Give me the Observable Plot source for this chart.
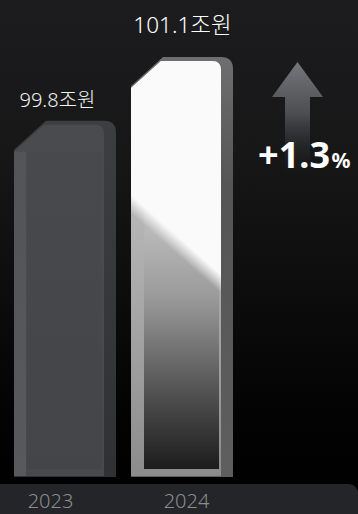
<!DOCTYPE html>
<html><head><meta charset="utf-8">
<script src="https://cdn.jsdelivr.net/npm/d3@7"></script>
<script src="https://cdn.jsdelivr.net/npm/@observablehq/plot@0.6"></script>
<style>
html,body{margin:0;padding:0;background:#000;}
#wrap{position:relative;width:358px;height:514px;overflow:hidden;
  background:linear-gradient(to bottom,#1c1c1e 0%,#171718 30%,#0c0c0c 58%,#030303 80%,#000 100%);}
#band{position:absolute;left:0;top:484px;width:358px;height:40px;background:#232528;border-radius:0 9px 0 0;}
#wrap svg{position:absolute;left:0;top:0;}
</style>
</head><body>
<div id="wrap"><div id="band"></div></div>
<script>
const years = ["2023", "2024"];
const values = [99.8, 101.1];
const valueLabels = ["99.8조원", "101.1조원"];
const changeValue = "+1.3";
const changeUnit = "%";
const yFloor = 92.55; // truncated baseline of the value axis

const data = years.map((year, i) => ({year, value: values[i], label: valueLabels[i]}));
const font = "'Noto Sans', 'Noto Sans CJK KR', sans-serif";

const plot = Plot.plot({
  width: 358, height: 514,
  marginTop: 0, marginRight: 124, marginBottom: 37, marginLeft: 13,
  style: {background: "transparent", fontFamily: font, overflow: "visible"},
  x: {domain: years, paddingInner: 0.127, paddingOuter: 0, axis: null},
  y: {domain: [yFloor, values[1]], range: [477, 57], axis: null},
  marks: [
    Plot.barY(data, {x: "year", y1: yFloor, y2: "value", fill: "#444"}),
    Plot.text(data.slice(0, 1), {x: "year", y: "value", text: "label", fill: "#f2f2f2", fontSize: 20, fontWeight: 300, dx: -8, dy: -21}),
    Plot.text(data.slice(1), {x: "year", y: "value", text: "label", fill: "#ffffff", fontSize: 22.5, fontWeight: 300, dx: 0, dy: -32}),
    Plot.text(data.slice(0, 1), {x: "year", y: () => yFloor, text: "year", fill: "#8b8c8f", fontSize: 20, fontWeight: 300, dx: -15, dy: 24}),
    Plot.text(data.slice(1), {x: "year", y: () => yFloor, text: "year", fill: "#8b8c8f", fontSize: 20, fontWeight: 300, dx: 4, dy: 24}),
    Plot.text([changeValue], {x: () => years[1], y: () => values[1], text: d => d, textAnchor: "end", fontSize: 36, fontWeight: 700, fill: "#ffffff", dx: 147.5, dy: 99}),
    Plot.text([changeUnit], {x: () => years[1], y: () => values[1], text: d => d, textAnchor: "start", fontSize: 21, fontWeight: 700, fill: "#ffffff", dx: 149, dy: 104})
  ]
});
document.getElementById("wrap").appendChild(plot);

// --- styling pass: turn plain bars into bevelled 3D slabs ---
const svg = d3.select(plot);
const defs = svg.insert("defs", ":first-child");
function grad(id, stops, x1 = 0, y1 = 0, x2 = 0, y2 = 1, user = false) {
  const g = defs.append("linearGradient").attr("id", id)
    .attr("x1", x1).attr("y1", y1).attr("x2", x2).attr("y2", y2);
  if (user) g.attr("gradientUnits", "userSpaceOnUse");
  stops.forEach(([o, c, op = 1]) => g.append("stop").attr("offset", o).attr("stop-color", c).attr("stop-opacity", op));
}
grad("side0", [[0, "#3d3e40"], [1, "#303133"]]);
grad("face0", [[0, "#4a4b4e"], [1, "#48494c"]]);
grad("lip0", [[0, "#535457"], [1, "#58595c"]]);
grad("inner0", [[0, "#48494c"], [0.5, "#45474a"], [1, "#434548"]]);
grad("side1", [[0, "#6e6e6e"], [0.3, "#555555"], [1, "#5e5e5e"]]);
grad("face1", [[0, "#bdbdbd"], [0.4, "#b4b4b4"], [1, "#8c8c8c"]]);
grad("inner1", [[0, "#c4c4c4"], [0.38, "#b8b8b8"], [0.55, "#9a9a9a"], [0.77, "#5a5a5a"], [1, "#1c1c1c"]]);
grad("arrow", [[0, "#74777b"], [0.45, "#4b4d51"], [1, "#1a1b1d", 0]]);

function slab(x0, x1, yt, yb, ch, cv, r) {
  return `M${x0},${yb}L${x0},${yt + cv}L${x0 + ch},${yt}L${x1 - r},${yt}Q${x1},${yt} ${x1},${yt + r}L${x1},${yb}Z`;
}
svg.selectAll('g[aria-label="bar"] rect').each(function(d, i) {
  const r = d3.select(this);
  const x0 = +r.attr("x"), w = +r.attr("width"), yt = +r.attr("y"), h = +r.attr("height"), yb = yt + h;
  const x1 = x0 + w, side = 12, lip = 12;
  const g = d3.select(this.parentNode).append("g");
  g.append("path").attr("d", slab(x0, x1, yt, yb, 32, 29, 12)).attr("fill", `url(#side${i})`);
  g.append("path").attr("d", slab(x0, x1 - side, yt + 4, yb - 1, 30, 27, 9)).attr("fill", `url(#face${i})`);
  if (i === 0) g.append("rect").attr("x", x0).attr("y", yt + 31).attr("width", lip).attr("height", h - 32).attr("fill", "url(#lip0)");
  g.append("rect").attr("x", x0 + lip + 1).attr("y", yt + 31).attr("width", w - side - lip - 3).attr("height", h - 39).attr("fill", `url(#inner${i})`);
  if (i === 1) {
    // glossy highlight with a soft diagonal edge
    const ax = x0, ay = yt + 0.35 * h, bx = x1 - side, by = yt + 0.54 * h;
    const mx = (ax + bx) / 2, my = (ay + by) / 2;
    const dx = bx - ax, dy = by - ay, L = Math.hypot(dx, dy);
    const nx = -dy / L, ny = dx / L, s = 7;
    grad("gloss", [[0, "#fafafa", 1], [1, "#fafafa", 0]], mx - nx * s, my - ny * s, mx + nx * s, my + ny * s, true);
    g.append("path").attr("d", slab(x0, x1 - side, yt + 4, yb - 1, 30, 27, 9)).attr("fill", "url(#gloss)");
  }
  r.remove();
});

// growth arrow, anchored to the 2024 bar through the scales
const xs = plot.scale("x"), ys = plot.scale("y");
const cx = xs.apply(years[1]) + xs.bandwidth / 2 + 115.5;
const tip = ys.apply(values[1]) + 5;
const hw = 25.5, sw = 12.5, hh = 35, len = 115;
svg.insert("path", 'g[aria-label="text"]')
  .attr("d", `M${cx},${tip}L${cx + hw},${tip + hh}L${cx + sw},${tip + hh}L${cx + sw},${tip + len}L${cx - sw},${tip + len}L${cx - sw},${tip + hh}L${cx - hw},${tip + hh}Z`)
  .attr("fill", "url(#arrow)");
</script>
</body></html>
